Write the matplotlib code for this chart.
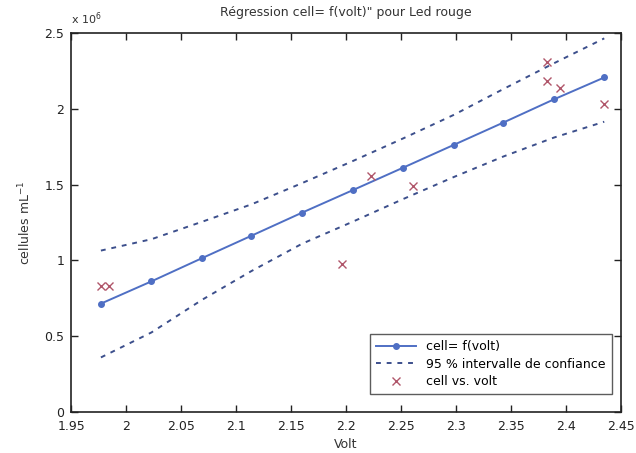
import numpy as np
import matplotlib.pyplot as plt

# Régression linéaire cellules = f(tension), LED rouge (valeurs en 10^6 cellules/mL)
volt_fit = [1.977, 2.023, 2.069, 2.114, 2.160, 2.206, 2.252, 2.298, 2.343, 2.389, 2.435]
cell_fit = [0.715, 0.862, 1.015, 1.163, 1.315, 1.463, 1.612, 1.762, 1.909, 2.062, 2.207]
ic_haut = [1.065, 1.14, 1.255, 1.37, 1.51, 1.655, 1.805, 1.96, 2.13, 2.30, 2.465]
ic_bas = [0.36, 0.525, 0.74, 0.93, 1.11, 1.255, 1.405, 1.55, 1.685, 1.81, 1.915]

# Mesures
volt_mes = [1.977, 1.984, 2.196, 2.223, 2.261, 2.383, 2.383, 2.395, 2.435]
cell_mes = [0.832, 0.832, 0.978, 1.559, 1.493, 2.312, 2.186, 2.140, 2.034]

plt.rcParams["font.family"] = ["DejaVu Sans"]

fig = plt.figure(figsize=(6.36, 4.53), dpi=100)
ax = fig.add_axes([0.112, 0.0905, 0.864, 0.8365])

ax.plot(volt_fit, cell_fit, "-", color="#4f6fc4", lw=1.4, marker="o", ms=4,
        label="cell= f(volt)")
ax.plot(volt_fit, ic_haut, "--", color="#3c4f8c", lw=1.4, dashes=(2.5, 3),
        label="95 % intervalle de confiance")
ax.plot(volt_fit, ic_bas, "--", color="#3c4f8c", lw=1.4, dashes=(2.5, 3))
ax.plot(volt_mes, cell_mes, "x", color="#b0566a", ms=6, mew=1.0,
        label="cell vs. volt")

ax.set_xlim(1.95, 2.45)
ax.set_ylim(0, 2.5)
ax.set_xticks(np.arange(1.95, 2.451, 0.05))
ax.set_xticklabels(["1.95", "2", "2.05", "2.1", "2.15", "2.2", "2.25",
                    "2.3", "2.35", "2.4", "2.45"])
ax.set_yticks([0, 0.5, 1, 1.5, 2, 2.5])
ax.set_yticklabels(["0", "0.5", "1", "1.5", "2", "2.5"])
ax.tick_params(direction="in", top=True, right=True, length=5, width=1,
               labelsize=9, colors="#222222")
ax.tick_params(axis="x", pad=6)
ax.tick_params(axis="y", pad=5)
for s in ax.spines.values():
    s.set_linewidth(1.2)
    s.set_color("#222222")

ax.set_title("Régression cell= f(volt)\" pour Led rouge", fontsize=9,
             color="#333333", pad=12)
ax.set_xlabel("Volt", fontsize=9, color="#333333", labelpad=3)
ax.set_ylabel("cellules mL$^{-1}$", fontsize=9, color="#333333", labelpad=8)
ax.text(0.0, 1.015, "x 10$^{6}$", transform=ax.transAxes, fontsize=8,
        color="#333333", va="bottom", ha="left")

leg = ax.legend(loc="lower right", fontsize=9, frameon=True, fancybox=False,
                edgecolor="#333333", handlelength=3.2, borderpad=0.5,
                labelspacing=0.35, bbox_to_anchor=(0.995, 0.03))
leg.get_frame().set_linewidth(1.0)

fig.savefig("out.png", dpi=100)
